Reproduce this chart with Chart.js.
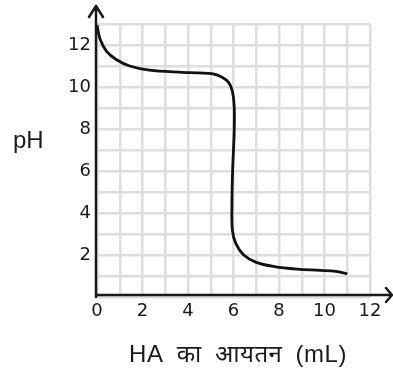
<!DOCTYPE html>
<html>
<head>
<meta charset="utf-8">
<script src="https://cdn.jsdelivr.net/npm/chart.js@4/dist/chart.umd.min.js"></script>
<style>
  html, body { margin: 0; padding: 0; background: #fff; }
  #wrap { position: relative; width: 393px; height: 370px; }
</style>
</head>
<body>
<div id="wrap"><canvas id="chart" width="393" height="370"></canvas></div>
<script>
// HA volume (mL) added vs pH
const volumeML = [0, 0.13, 0.42, 0.86, 1.44, 2.3, 3.76, 4.5, 5.1, 5.5, 5.8, 5.95, 6.03, 6.03, 5.96, 5.93, 5.95, 6.1, 6.45, 7.0, 7.8, 8.8, 9.8, 10.5, 11];
const phValues = [12.95, 12.3, 11.7, 11.3, 11.0, 10.8, 10.7, 10.67, 10.62, 10.46, 10.2, 9.8, 9.1, 7.85, 6.0, 4.2, 3.2, 2.55, 2.0, 1.65, 1.45, 1.33, 1.27, 1.22, 1.1];

const xTickLabels = [0, 2, 4, 6, 8, 10, 12];
const yTickLabels = [2, 4, 6, 8, 10, 12];

const xTitle = 'HA का आयतन (mL)';
const yTitle = 'pH';

const tickFont = { family: 'DejaVu Sans', size: 18 };
const titleFont = "24px 'Liberation Sans', 'Noto Sans', 'Noto Sans Devanagari', sans-serif";

// axes with arrow heads + the two titles
const axesPlugin = {
  id: 'axesArrows',
  afterDraw(chart) {
    const { ctx, chartArea } = chart;
    const { left, right, top, bottom } = chartArea;
    ctx.save();
    ctx.strokeStyle = '#1a1a1a';
    ctx.lineWidth = 2.5;
    ctx.lineCap = 'round';
    ctx.lineJoin = 'round';

    // y axis
    ctx.beginPath();
    ctx.moveTo(left - 1, bottom);
    ctx.lineTo(left - 1, top - 18);
    ctx.moveTo(left - 8, top - 7);
    ctx.lineTo(left - 1, top - 18);
    ctx.lineTo(left + 6, top - 7);
    ctx.stroke();

    // x axis
    ctx.beginPath();
    ctx.moveTo(left - 1, bottom - 2);
    ctx.lineTo(right + 22, bottom - 2);
    ctx.moveTo(right + 16, bottom - 9);
    ctx.lineTo(right + 22, bottom - 2);
    ctx.lineTo(right + 16, bottom + 5);
    ctx.stroke();

    ctx.fillStyle = '#1a1a1a';
    ctx.font = titleFont;
    ctx.textBaseline = 'alphabetic';
    ctx.textAlign = 'left';
    ctx.fillText(yTitle, 13, 148);
    ctx.textAlign = 'center';
    ctx.wordSpacing = '6px';
    ctx.letterSpacing = '0.5px';
    ctx.fillText(xTitle, 238, 362);
    ctx.restore();
  }
};

const ctx = document.getElementById('chart').getContext('2d');
new Chart(ctx, {
  type: 'line',
  data: {
    datasets: [{
      data: volumeML.map((v, i) => ({ x: v, y: phValues[i] })),
      borderColor: '#111',
      borderWidth: 2.8,
      pointRadius: 0,
      tension: 0.35,
      fill: false
    }]
  },
  options: {
    responsive: false,
    animation: false,
    layout: { padding: { top: 24, right: 23, left: 0, bottom: 0 } },
    plugins: {
      legend: { display: false },
      tooltip: { enabled: false }
    },
    scales: {
      x: {
        type: 'linear',
        min: 0,
        max: 12,
        border: { display: false },
        grid: { color: '#dedede', lineWidth: 2.5, drawTicks: false },
        afterFit: (scale) => { scale.height = 73; },
        ticks: {
          stepSize: 1,
          padding: 4,
          color: '#1a1a1a',
          font: tickFont,
          maxRotation: 0,
          autoSkip: false,
          callback: (v) => xTickLabels.includes(v) ? String(v) : ''
        }
      },
      y: {
        min: 0,
        max: 13,
        border: { display: false },
        grid: { color: '#dedede', lineWidth: 2.5, drawTicks: false },
        afterFit: (scale) => { scale.width = 97; },
        ticks: {
          stepSize: 1,
          padding: 6,
          color: '#1a1a1a',
          font: tickFont,
          autoSkip: false,
          callback: (v) => yTickLabels.includes(v) ? String(v) : ''
        }
      }
    }
  },
  plugins: [axesPlugin]
});
</script>
</body>
</html>
